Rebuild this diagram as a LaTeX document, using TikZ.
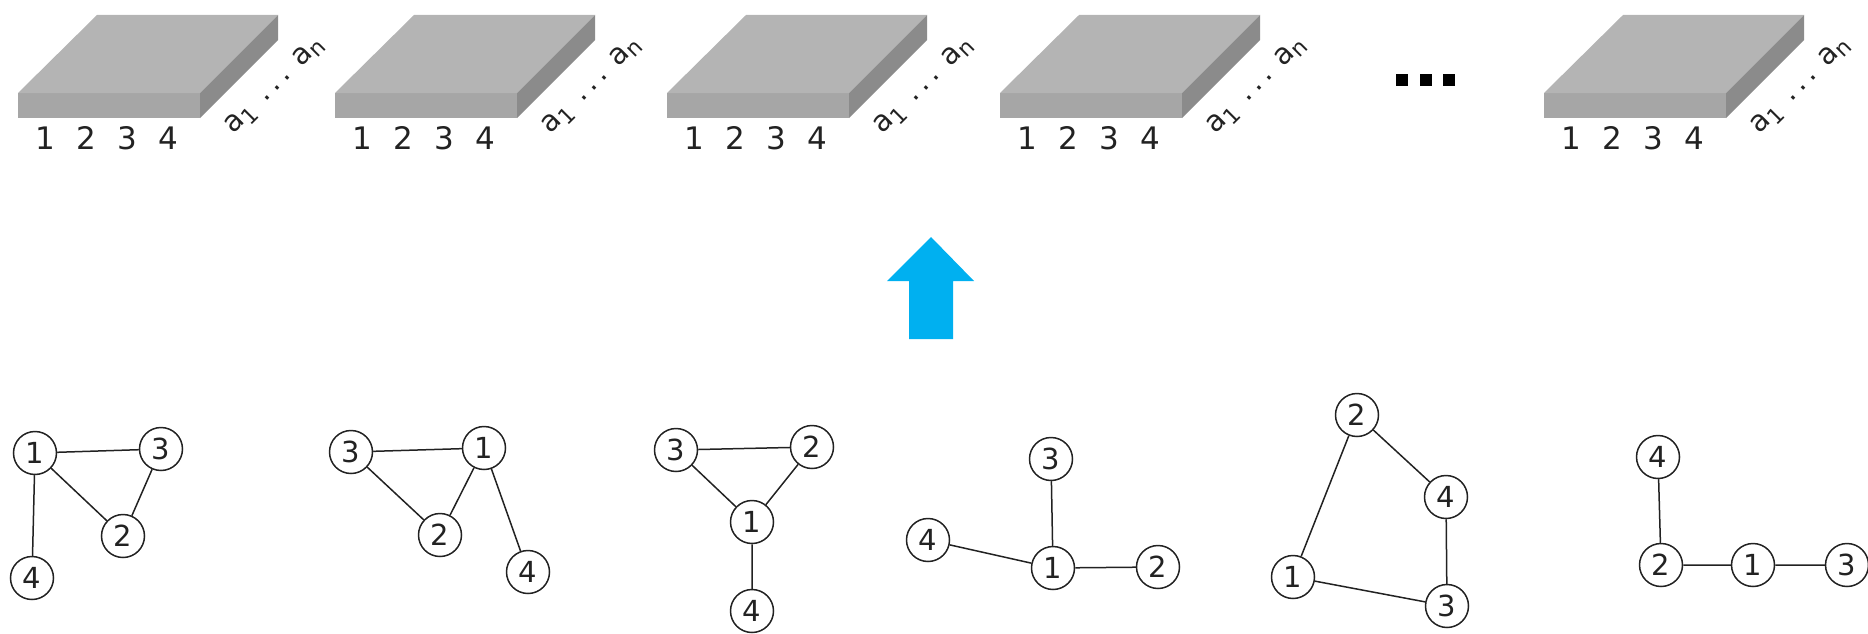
\documentclass[tikz,border=0pt]{standalone}
\usepackage{fontspec}
\setmainfont{DejaVu Sans}
\definecolor{slabtop}{HTML}{B4B4B4}
\definecolor{slabfront}{HTML}{A6A6A6}
\definecolor{slabside}{HTML}{8B8B8B}
\definecolor{arrowblue}{HTML}{00B0F0}
\definecolor{ink}{HTML}{222222}
\newcommand{\attrsub}[1]{\raisebox{-6pt}{\fontsize{22}{24}\selectfont #1}}
\tikzset{
  slab/.pic={
    \fill[slabfront] (0,0) rectangle (182,25);
    \fill[slabtop] (0,0) -- (79,-78) -- (260,-78) -- (182,0) -- cycle;
    \fill[slabside] (182,0) -- (260,-78) -- (260,-53) -- (182,25) -- cycle;
  },
  idx/.style={font=\fontsize{31}{34}\selectfont, text=ink, inner sep=0pt},
  attr/.style={font=\fontsize{29}{32}\selectfont, text=ink, inner sep=0pt, rotate=45},
  gnode/.style={circle, draw=ink, line width=1.5pt, minimum size=43pt, inner sep=0pt,
    fill=white, text=ink, font=\fontsize{29}{32}\selectfont},
  gedge/.style={draw=ink, line width=1.5pt},
}
\begin{document}
\begin{tikzpicture}[x=1pt, y=-1pt]
\useasboundingbox (0,0) rectangle (1868,634);

% row of attribute slabs
\foreach \x [count=\i] in {18,335,667,1000,1544} {
  \pic at (\x,93) {slab};
  \node[idx] (s\i-c1) at (\x+27,138) {1};
  \node[idx] (s\i-c2) at (\x+68,138) {2};
  \node[idx] (s\i-c3) at (\x+109,138) {3};
  \node[idx] (s\i-c4) at (\x+150,138) {4};
  \node[attr] (s\i-attr) at (\x+257,86)
    {a\attrsub{1}\hspace{13pt}.\hspace{5pt}.\hspace{5pt}.\hspace{13pt}a\attrsub{n}};
}

% ellipsis between slabs
\foreach \cx in {1402,1426,1449}
  \fill[black] (\cx-6,74) rectangle (\cx+6,86);

% upward block arrow
\fill[arrowblue] (909,339) -- (909,281) -- (887,281) -- (931,237)
  -- (974,281) -- (953,281) -- (953,339) -- cycle;

% graph 1
\node[gnode] (a1) at (35,453) {1};
\node[gnode] (a3) at (161,449) {3};
\node[gnode] (a2) at (123,536) {2};
\node[gnode] (a4) at (32,578) {4};
\draw[gedge] (a1) -- (a3) (a1) -- (a2) (a3) -- (a2) (a1) -- (a4);

% graph 2
\node[gnode] (b3) at (351,452) {3};
\node[gnode] (b1) at (484,448) {1};
\node[gnode] (b2) at (440,535) {2};
\node[gnode] (b4) at (528,572) {4};
\draw[gedge] (b3) -- (b1) (b3) -- (b2) (b1) -- (b2) (b1) -- (b4);

% graph 3
\node[gnode] (c3) at (676,450) {3};
\node[gnode] (c2) at (812,447) {2};
\node[gnode] (c1) at (752,522) {1};
\node[gnode] (c4) at (752,611) {4};
\draw[gedge] (c3) -- (c2) (c3) -- (c1) (c2) -- (c1) (c1) -- (c4);

% graph 4
\node[gnode] (d3) at (1051,459) {3};
\node[gnode] (d4) at (928,540) {4};
\node[gnode] (d1) at (1053,568) {1};
\node[gnode] (d2) at (1158,567) {2};
\draw[gedge] (d3) -- (d1) (d4) -- (d1) (d1) -- (d2);

% graph 5
\node[gnode] (e2) at (1357,415) {2};
\node[gnode] (e4) at (1446,497) {4};
\node[gnode] (e1) at (1293,577) {1};
\node[gnode] (e3) at (1447,606) {3};
\draw[gedge] (e2) -- (e4) (e2) -- (e1) (e4) -- (e3) (e1) -- (e3);

% graph 6
\node[gnode] (f4) at (1658,457) {4};
\node[gnode] (f2) at (1661,565) {2};
\node[gnode] (f1) at (1753,565) {1};
\node[gnode] (f3) at (1847,565) {3};
\draw[gedge] (f4) -- (f2) (f2) -- (f1) (f1) -- (f3);
\end{tikzpicture}
\end{document}
